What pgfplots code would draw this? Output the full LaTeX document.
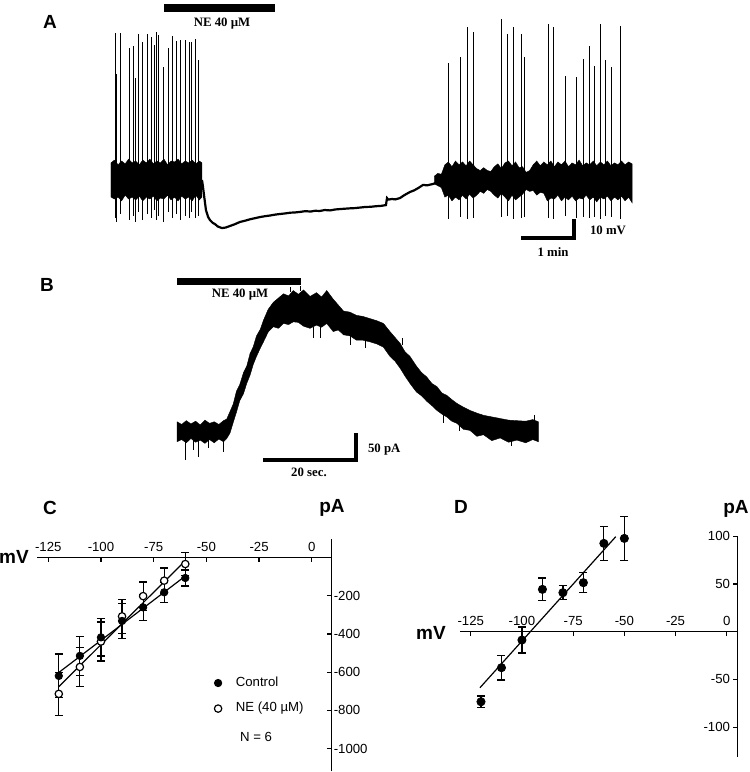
\documentclass[border=0pt]{standalone}
\usepackage{fontspec}
\setmainfont{Liberation Serif}
\setsansfont{Liberation Sans}
\usepackage{pgfplots}
\pgfplotsset{compat=1.18}

\newcommand\tk{\sffamily\fontsize{6.6}{7.5}\selectfont}
\newcommand\lb{\sffamily\bfseries\fontsize{9.5}{11}\selectfont}
\newcommand\scb{\rmfamily\bfseries\fontsize{6.4}{7}\selectfont}

\pgfplotsset{
  ivaxis/.style={
    scale only axis, clip=false,
    axis x line=middle, axis y line=right,
    axis line style={-, line width=0.6pt},
    xtick align=outside, ytick align=inside,
    major tick length=2.2pt,
    tick style={black, line width=0.6pt},
    tick label style={font=\tk},
    xticklabel style={anchor=south, yshift=4.6pt, inner sep=0.5pt},
    yticklabel style={anchor=west, inner sep=0.8pt},
    /pgf/number format/assume math mode=true,
    /pgf/number format/1000 sep={},
    hide obscured x ticks=false, hide obscured y ticks=false,
    xtick={-125,-100,-75,-50,-25,0},
  },
  ebar/.style={error bars/.cd, y dir=both, y explicit,
    error bar style={black, line width=0.6pt},
    error mark options={rotate=90, black, line width=0.6pt, mark size=2pt}},
}

\begin{document}
\begin{tikzpicture}
\path[use as bounding box] (0,0) rectangle (375pt,-386pt);

% ---------------- A: current clamp trace (s, mV)
\begin{axis}[at={(51.08pt,-128pt)}, anchor=south west, scale only axis,
  width=269.4pt, height=123.5pt, xmin=-10, xmax=600, ymin=-40, ymax=90,
  hide axis, clip=false]
% noise band before NE
\addplot[fill=black, draw=black, line width=0.2pt] coordinates {
 (0,9) (4,10.5) (8,8) (12,10) (16,8.5) (20,11) (24,9) (28,10) (32,8) (36,10.5)
 (40,9) (44,11) (48,8.5) (52,10) (56,9) (60,11) (64,8) (68,10) (72,9.5) (76,11)
 (80,8.5) (84,10) (88,9) (92,10.5) (96,8.5) (100,10) (103,9)
 (103,-9) (100,-10.5) (96,-8) (92,-11) (88,-9) (84,-10) (80,-8.5) (76,-11) (72,-9)
 (68,-10.5) (64,-8) (60,-10) (56,-9.5) (52,-11) (48,-8.5) (44,-10) (40,-9) (36,-11)
 (32,-8.5) (28,-10.5) (24,-9) (20,-10) (16,-8) (12,-11) (8,-9) (4,-10) (0,-9) (0,9)};
% action potentials before NE
\addplot[ycomb, black, line width=0.45pt] coordinates {
 (4.5,77.2) (5.7,55.8) (10.2,77.2) (20.4,69.3) (25.2,70.5) (27.2,53.5) (30.6,76.7)
 (35.1,72.8) (40.8,76.7) (45.3,75.4) (48.7,71.1) (51.7,77.7) (53.5,76.3) (59.9,59.6)
 (64.9,69.6) (69.4,75.8) (73.6,73.3) (78.1,73.7) (84.6,73.7) (88.3,72.8) (91.4,72.5)
 (95.4,74.2) (99.3,63.2)};
\addplot[ycomb, black, line width=0.45pt] coordinates {
 (4.5,-20) (5.7,-22) (10.2,-18) (20.4,-21) (25.2,-19) (27.2,-22) (30.6,-17)
 (35.1,-21) (40.8,-18) (45.3,-20) (48.7,-16) (51.7,-21) (53.5,-19) (59.9,-22)
 (64.9,-17) (69.4,-20) (73.6,-18) (78.1,-21) (84.6,-19) (88.3,-20) (91.4,-17)
 (95.4,-20) (99.3,-19)};
% hyperpolarisation
\addplot[black, line width=1.1pt] coordinates {
 (103,0) (104,-3) (105.3,-7.9) (107.5,-15.8) (110,-19.5) (112.1,-21.1) (115,-22.5)
 (117.7,-23.2) (121,-24.5) (125.7,-25.3) (130,-25) (134.7,-24.2) (140,-23.3)
 (146,-22.1) (152,-21.4) (158,-20.6) (163,-20.1) (168.7,-19.5) (175,-19) (180,-18.7)
 (186,-18.2) (191.3,-17.9) (197,-17.6) (203,-17.2) (208,-17.1) (214,-16.8) (220,-16.4)
 (226,-16.6) (231,-16.2) (236.6,-16.3) (242,-15.8) (248,-16) (254,-15.5) (259.2,-15.3)
 (265,-15.1) (271,-14.9) (276,-14.8) (281.9,-14.5) (288,-14.2) (294,-14.1) (300,-13.8)
 (306,-13.6) (311.3,-13.2) (312,-11) (312.5,-9.5) (314,-10.3) (318.1,-10) (322,-10.2)
 (327.2,-9.5) (332,-8) (338.5,-6.3) (343,-5.5) (348,-4.2) (353.2,-2.6) (358,-2.8)
 (364.5,-2.1) (368,-1.5) (372,-1)};
% noise band after washout
\addplot[fill=black, draw=black, line width=0.2pt] coordinates {
 (366,2) (370,3.5) (374,3) (378,8) (382,9.5) (386,7) (390,10) (394,8) (398,9.5)
 (402,7.5) (406,10) (410,8) (414,6) (418,5) (422,6.5) (426,5) (430,4.5) (434,7)
 (438,8.5) (442,6) (446,9) (450,10) (454,7.5) (458,9.5) (462,6.5) (466,7) (470,4)
 (474,5) (478,8) (482,10) (486,7.5) (490,9.5) (494,8) (498,10) (502,7) (506,9.5)
 (510,8) (514,10) (518,7) (522,9) (526,8) (530,10.5) (534,7.5) (538,9) (542,8)
 (546,10) (550,7.5) (554,9.5) (558,8) (562,10) (566,7.5) (570,9) (574,8) (578,10)
 (582,8) (586,9.5) (590,8.5)
 (590,-12) (586,-9) (582,-11) (578,-8.5) (574,-10.5) (570,-9) (566,-11) (562,-8.5)
 (558,-10) (554,-9) (550,-11.5) (546,-9) (542,-10.5) (538,-8) (534,-10) (530,-9.5)
 (526,-11) (522,-8.5) (518,-10.5) (514,-9) (510,-11) (506,-8) (502,-10) (498,-9.5)
 (494,-11) (490,-7) (486,-6.5) (482,-8) (478,-5.5) (474,-6) (470,-5) (466,-7.5)
 (462,-9) (458,-10.5) (454,-8) (450,-11) (446,-9) (442,-7) (438,-9.5) (434,-8)
 (430,-6) (426,-5) (422,-7) (418,-6) (414,-8) (410,-9.5) (406,-7.5) (402,-10)
 (398,-8) (394,-10.5) (390,-9) (386,-11) (382,-8) (378,-9) (374,-4) (370,-3) (366,-2) (366,2)};
\addplot[ycomb, black, line width=0.45pt] coordinates {
 (382.3,61.6) (396.2,64.7) (403.0,80.5) (409.8,77.9) (441.5,84.7) (449.4,76.8)
 (456.2,80.5) (464.2,76.8) (467.6,64.7) (494.7,82.1) (500.4,80.5) (514.0,54.7)
 (526.4,54.2) (534.4,63.7) (541.2,70.5) (547.9,60.0) (553.6,82.1) (559.3,63.2)
 (566.1,59.5) (576.3,81.1)};
\addplot[ycomb, black, line width=0.45pt] coordinates {
 (382.3,-20.5) (396.2,-19.5) (403.0,-20.5) (409.8,-20) (441.5,-19.5) (449.4,-19)
 (456.2,-20.5) (464.2,-20) (467.6,-19.5) (494.7,-20) (500.4,-20.5) (514.0,-19)
 (526.4,-20) (534.4,-19.5) (541.2,-20) (547.9,-19.5) (553.6,-20.5) (559.3,-19)
 (566.1,-19.5) (576.3,-20.5)};
\end{axis}

% ---------------- B: voltage clamp current (s, pA)
\begin{axis}[at={(83.85pt,-232.2pt)}, anchor=south west, scale only axis,
  width=190.65pt, height=91.8pt, xmin=-2, xmax=80, ymin=-60, ymax=280,
  hide axis, clip=false]
\addplot[fill=black, draw=black, line width=0.2pt] coordinates {
 (0,19) (1,14) (2,21) (3,15) (4,20) (5,13) (6,22) (7,16) (8,19) (9,14) (10,21)
 (10.7,24) (11.4,38) (12.1,52) (12.8,76) (13.5,88) (14.3,110) (15.0,122) (15.7,145)
 (16.4,158) (17.1,178) (17.9,190) (18.6,207) (19.6,227) (20.7,240) (21.8,248)
 (22.9,256) (24,252) (25.0,262) (26.1,255) (27.2,263) (28.6,251) (30.0,258)
 (31.1,250) (32.2,262) (33.6,246) (34.7,235) (35.8,224) (37.2,222) (38.6,216)
 (40.0,214) (41.5,210) (43.0,206) (44.4,201) (45.8,186) (46.9,175) (48.0,164)
 (49.0,149) (50.1,140) (51.5,122) (52.6,110) (53.7,102) (54.8,90) (55.9,84)
 (57.0,72) (58.0,68) (59.1,60) (60.2,53) (61.6,46) (63.0,40) (64.5,35) (65.9,31)
 (67.7,28) (69.5,25) (71.3,22) (73.1,21) (75.0,20) (76.5,23) (77.7,19)
 (77.7,-18) (76.5,-14) (75.0,-20) (73.1,-15) (71.3,-19) (69.5,-11) (67.7,-16)
 (65.9,-5) (64.5,-8) (63.0,3) (61.6,5) (60.2,16) (59.1,20) (58.0,28) (57.0,33)
 (55.9,40) (54.8,49) (53.7,57) (52.6,67) (51.5,74) (50.1,90) (49.0,104) (48.0,118)
 (46.9,131) (45.8,140) (44.4,157) (43.0,163) (41.5,167) (40.0,170) (38.6,170)
 (37.2,178) (35.8,180) (34.7,189) (33.6,186) (32.2,201) (31.1,194) (30.0,198)
 (28.6,192) (27.2,196) (26.1,203) (25.0,204) (24,199) (22.9,201) (21.8,192)
 (20.7,195) (19.6,185) (18.6,167) (17.9,155) (17.1,140) (16.4,125) (15.7,105)
 (15.0,90) (14.3,71) (13.5,58) (12.8,37) (12.1,18) (11.4,-2) (10.7,-12) (10,-18)
 (9,-13) (8,-20) (7,-14) (6,-21) (5,-15) (4,-19) (3,-12) (2,-20) (1,-14) (0,-18) (0,19)};
\addplot[ycomb, black, line width=0.4pt] coordinates {
 (1.9,-52) (3.5,-33) (4.5,-46) (6.8,-30) (9.9,-37)};
% a few noise excursions off the band (centre +- half length)
\addplot[draw=none, mark=none, error bars/.cd, y dir=both, y explicit,
  error mark=none, error bar style={black, line width=0.4pt}] coordinates {
 (29.4,185) +- (0,10) (30.8,186) +- (0,12) (37.2,170) +- (0,9) (40.6,164) +- (0,8)
 (57.3,24) +- (0,8) (60.8,10) +- (0,8) (71.9,-20) +- (0,6) (76.8,26) +- (0,6)
 (24.3,264) +- (0,5) (26.6,266) +- (0,5) (48.5,168) +- (0,6)};
\end{axis}

% ---------------- C: I-V, control and NE
\begin{axis}[ivaxis, at={(18.65pt,-385.7pt)}, anchor=south west,
  width=147.25pt, height=116pt, xmin=-130.2, xmax=9.5, ymin=-1120, ymax=95,
  ytick={-1000,-800,-600,-400,-200},
  legend style={draw=none, fill=none, at={(0.600,0.427)}, anchor=north west,
    font=\tk, row sep=2.5pt, inner sep=0pt,
    /tikz/every odd column/.append style={column sep=5pt}},
  legend cell align=left, reverse legend]
\addplot[black, line width=0.6pt, forget plot] coordinates {(-120,-676) (-60,-17)};
\addplot[black, line width=0.6pt, forget plot] coordinates {(-120,-602) (-60,-97)};
\addplot[only marks, mark=*, mark size=1.85pt,
  mark options={fill=white, draw=black, line width=0.6pt}, ebar] coordinates {
 (-120,-714) +- (0,113) (-110,-573) +- (0,104) (-100,-440) +- (0,102)
 (-90,-308) +- (0,88) (-80,-202) +- (0,74) (-70,-121) +- (0,66) (-60,-34) +- (0,61)};
\addlegendentry{NE (40 µM)}
\addplot[only marks, mark=*, mark size=1.85pt,
  mark options={fill=black, draw=black}, ebar] coordinates {
 (-120,-620) +- (0,115) (-110,-515) +- (0,103) (-100,-418) +- (0,98)
 (-90,-332) +- (0,90) (-80,-261) +- (0,69) (-70,-182) +- (0,54) (-60,-107) +- (0,42)};
\addlegendentry{Control}
\end{axis}

% ---------------- D: NE-induced current
\begin{axis}[ivaxis, at={(230.05pt,-378.35pt)}, anchor=south west,
  width=138.65pt, height=110.2pt, xmin=-130.2, xmax=5.2, ymin=-131, ymax=100,
  ytick={-100,-50,50,100},
  yticklabel style={anchor=east, xshift=-3pt, inner sep=0.5pt}]
\addplot[black, line width=0.6pt] coordinates {(-120.5,-58.7) (-54.2,99.6)};
\addplot[only marks, mark=*, mark size=2.05pt,
  mark options={fill=black, draw=black}, ebar] coordinates {
 (-120,-73.4) +- (0,6) (-110,-37.7) +- (0,13) (-100,-8.7) +- (0,13.6)
 (-90,44.4) +- (0,12) (-80,40.9) +- (0,7.5) (-70,51.4) +- (0,10.5)
 (-60,92.6) +- (0,18) (-50,97.8) +- (0,23)};
\end{axis}

% ---------------- annotations (pixel grid of the figure)
\begin{scope}[x=0.5pt, y=-0.5pt]
\fill (164,4) rectangle (275,11.5);
\node[font=\scb] at (222,24) {NE 40 µM};
\draw[line width=1.6pt] (521,238) -- (574,238) -- (574,219);
\node[font=\scb, anchor=west] at (583,230) {10 mV};
\node[font=\scb] at (553,252) {1 min};
\fill (177,278) rectangle (301,285);
\node[font=\scb] at (240,295) {NE 40 µM};
\draw[line width=1.6pt] (263,460) -- (356,460) -- (356,433);
\node[font=\scb, anchor=west] at (361,450) {50 pA};
\node[font=\scb] at (309,472) {20 sec.};
\node[font=\lb] at (50,22) {A};
\node[font=\lb] at (47,285) {B};
\node[font=\lb] at (50,508) {C};
\node[font=\lb] at (461,507) {D};
\node[font=\lb] at (14,557) {mV};
\node[font=\lb] at (431,633) {mV};
\node[font=\lb] at (332,508) {pA};
\node[font=\lb] at (736,509) {pA};
\node[font=\tk, anchor=west] at (233,737) {N = 6};
\end{scope}
\end{tikzpicture}
\end{document}
